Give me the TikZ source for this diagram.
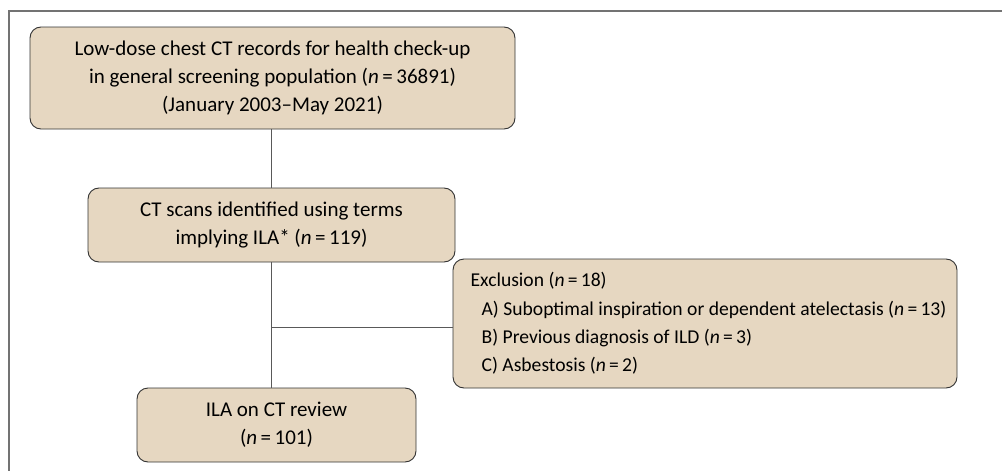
\documentclass[tikz,border=0pt]{standalone}
\usepackage{fontspec}
\setmainfont{Carlito}
\begin{document}
\begin{tikzpicture}[x=1pt,y=-1pt,
  box/.style={draw=black!80, fill=boxfill, rounded corners=11pt, line width=0.9pt, align=center, font=\fontsize{21}{28}\selectfont, inner sep=0pt},
  conn/.style={draw=black!65, line width=0.9pt},
  frame/.style={draw=black!55, line width=1.6pt}]
\definecolor{boxfill}{HTML}{E6D7C1}
\useasboundingbox (0,0) rectangle (1002,471);
\draw[frame] (9,471) -- (9,11) -- (1002,11);
\node[box, minimum width=485pt, minimum height=102pt] (b1) at (272.5,78)
  {Low-dose chest CT records for health check-up\\in general screening population (\textit{n}\,=\,36891)\\(January 2003--May 2021)};
\node[box, minimum width=367pt, minimum height=74pt] (b2) at (271.5,225)
  {CT scans identified using terms\\implying ILA* (\textit{n}\,=\,119)};
\node[box, minimum width=279pt, minimum height=74pt] (b3) at (276.5,425)
  {ILA on CT review\\(\textit{n}\,=\,101)};
\node[box, align=left, font=\fontsize{19.6}{28.3}\selectfont, minimum width=504pt, minimum height=129pt] (ex) at (705,323.5)
  {\hspace*{7pt}Exclusion (\textit{n}\,=\,18)\\
   \hspace*{18pt}A) Suboptimal inspiration or dependent atelectasis (\textit{n}\,=\,13)\\
   \hspace*{18pt}B) Previous diagnosis of ILD (\textit{n}\,=\,3)\\
   \hspace*{18pt}C) Asbestosis (\textit{n}\,=\,2)};
\coordinate (br) at (271,327);
\draw[conn] (b1.south -| br) -- (b2.north -| br);
\draw[conn] (b2.south -| br) -- (b3.north -| br);
\draw[conn] (br) -- (br -| ex.west);
\end{tikzpicture}
\end{document}
